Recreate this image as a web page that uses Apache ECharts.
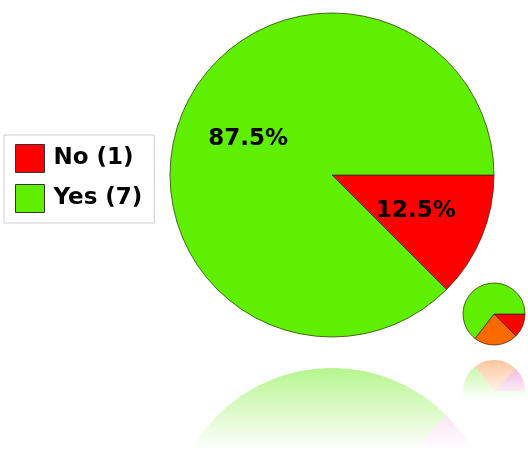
<!DOCTYPE html>
<html>
<head>
<meta charset="utf-8">
<script src="https://cdn.jsdelivr.net/npm/echarts@6/dist/echarts.min.js"></script>
<style>html,body{margin:0;padding:0;background:#fff}#c{width:528px;height:453px}</style>
</head>
<body>
<div id="c"></div>
<script>
const categories = ['No (1)', 'Yes (7)'];
const values = [1, 7];
const sliceColors = ['#ff0000', '#5ef000'];
const thumbCategories = ['No', 'Other', 'Yes'];
const thumbValues = [12.5, 23, 64.5];
const thumbColors = ['#ff0000', '#ff6a00', '#5ef000'];

const bigCenter = [332, 175], bigR = 162;
const thumbCenter = [494, 314], thumbR = 31;
const mirrorY = 352.5;

function fade(rgb, a0, y0, y1) {
  return {
    type: 'linear', x: 0, y: y0, x2: 0, y2: y1, global: true,
    colorStops: [
      { offset: 0, color: 'rgba(' + rgb + ',' + a0 + ')' },
      { offset: 1, color: 'rgba(' + rgb + ',0)' }
    ]
  };
}
const reflRgb = { '#ff0000': '228,65,172', '#ff6a00': '245,130,40', '#5ef000': '110,235,30' };

const chart = echarts.init(document.getElementById('c'), null, { renderer: 'canvas' });
const bigTop = 2 * mirrorY - bigCenter[1] - bigR;
const thumbTop = 2 * mirrorY - thumbCenter[1] - thumbR;

chart.setOption({
  animation: false,
  backgroundColor: '#fff',
  legend: {
    orient: 'vertical', left: 4, top: 135,
    data: categories,
    padding: [9, 12, 10, 11],
    itemWidth: 29, itemHeight: 28, itemGap: 11,
    borderColor: '#cfcfcf', borderWidth: 1,
    icon: 'rect',
    itemStyle: { borderColor: '#333', borderWidth: 1 },
    textStyle: { fontFamily: 'DejaVu Sans', fontWeight: 'bold', fontSize: 23, color: '#000', padding: [0, 0, 0, 4] },
    selectedMode: false
  },
  series: [
    {
      type: 'pie', name: 'reflBig', silent: true, z: 1,
      center: [bigCenter[0], 2 * mirrorY - bigCenter[1]], radius: bigR,
      startAngle: 0, clockwise: false, label: { show: false }, labelLine: { show: false },
      data: categories.map((n, i) => ({ name: 'r' + n, value: values[i],
        itemStyle: { color: fade(reflRgb[sliceColors[i]], i === 0 ? 0.32 : 0.5, bigTop, bigTop + 82) } }))
    },
    {
      type: 'pie', name: 'reflThumb', silent: true, z: 1,
      center: [thumbCenter[0], 2 * mirrorY - thumbCenter[1]], radius: thumbR,
      startAngle: 0, clockwise: false, label: { show: false }, labelLine: { show: false },
      data: thumbCategories.map((n, i) => ({ name: 'rt' + n, value: thumbValues[i],
        itemStyle: { color: fade(reflRgb[thumbColors[i]], 0.45, thumbTop, thumbTop + 40) } }))
    },
    {
      type: 'pie', name: 'main', z: 3,
      center: bigCenter, radius: bigR, startAngle: 0, clockwise: true,
      percentPrecision: 1,
      itemStyle: { borderColor: 'rgba(40,40,0,0.7)', borderWidth: 1 },
      label: {
        show: true, position: 'inside', formatter: '{d}%',
        fontFamily: 'DejaVu Sans', fontWeight: 'bold', fontSize: 23, color: '#000'
      },
      labelLayout: function (p) {
        const lx = p.labelRect.x + p.labelRect.width / 2;
        const ly = p.labelRect.y + p.labelRect.height / 2;
        return { dx: (lx - bigCenter[0]) * 0.08, dy: (ly - bigCenter[1]) * 0.12 };
      },
      labelLine: { show: false },
      emphasis: { disabled: true },
      data: categories.map((n, i) => ({ name: n, value: values[i], itemStyle: { color: sliceColors[i] } }))
    },
    {
      type: 'pie', name: 'thumb', z: 4,
      center: thumbCenter, radius: thumbR, startAngle: 0, clockwise: true,
      itemStyle: { borderColor: 'rgba(60,30,0,0.7)', borderWidth: 1 },
      label: { show: false }, labelLine: { show: false },
      emphasis: { disabled: true },
      data: thumbCategories.map((n, i) => ({ name: n, value: thumbValues[i], itemStyle: { color: thumbColors[i] } }))
    }
  ]
});
</script>
</body>
</html>
